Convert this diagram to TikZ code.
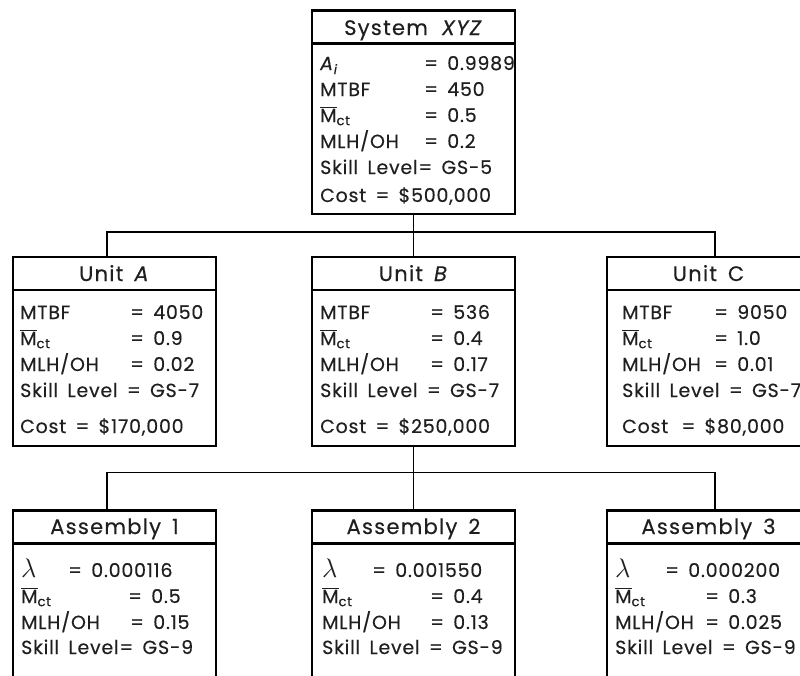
\documentclass[tikz,border=0pt]{standalone}
\usepackage[no-math]{fontspec}
\setmainfont{Poppins}[LetterSpace=4, WordSpace=1.6, Numbers=Monospaced, FakeBold=0.3]
\usetikzlibrary{calc}
\newcommand\Mbar{$\overline{\mbox{M}}$\textsubscript{ct}}
\newcommand\lam{\scalebox{1.55}{$\lambda$}}
\begin{document}
\begin{tikzpicture}[x=1pt,y=-1pt,
  box/.style={draw, line width=2.6pt, minimum width=203pt, inner sep=0pt, outer sep=0pt, fill=white},
  sep/.style={line width=2.6pt},
  conn/.style={line width=1.3pt},
  txt/.style={anchor=base west, inner sep=0pt, text=black!88, font=\fontsize{19}{22}\selectfont},
  hdr/.style={anchor=base, inner sep=0pt, text=black!88, font=\fontsize{21}{24}\selectfont\addfontfeature{LetterSpace=6}}]
\useasboundingbox (0,0) rectangle (800,675);
\clip (0,0) rectangle (800,675);

% boxes
\node[box, minimum height=203.5pt] (sys) at (413.5,112.25) {};
\node[box, minimum height=189pt] (uA) at (114.5,351.5) {};
\node[box, minimum height=189pt] (uB) at (413.5,351.5) {};
\node[box, minimum height=189pt] (uC) at (708.5,351.5) {};
\node[box, minimum height=190pt] (a1) at (114.5,605.7) {};
\node[box, minimum height=190pt] (a2) at (413.5,605.7) {};
\node[box, minimum height=190pt] (a3) at (708.5,605.7) {};

% header separators
\foreach \b in {sys,uA,uB,uC,a1,a2,a3}
  \draw[sep] ([yshift=-33pt]\b.north west) -- ([yshift=-33pt]\b.north east);

% connectors
\draw[conn] (sys.south) -- (uB.north);
\draw[conn] ([xshift=-7.5pt]uA.north) |- ([yshift=25pt]uB.north) -| ([xshift=6.5pt]uC.north);
\draw[conn] (uB.south) -- (a2.north);
\draw[conn] ([xshift=-7.5pt]a1.north) |- ([yshift=38pt]a2.north) -| ([xshift=6.5pt]a3.north);

% System XYZ
\node[hdr] (sysh) at (413.5,35) {System\hspace{3pt} \textit{XYZ}};
\node[txt] (s1l) at (320,70) {\textit{A}\textsubscript{\textit{i}}};
\node[txt] (s1v) at (424,70) {= 0.9989};
\node[txt] (s2l) at (320,96) {MTBF};
\node[txt] (s2v) at (424,96) {= 450};
\node[txt] (s3l) at (320,122) {\Mbar};
\node[txt] (s3v) at (424,122) {= 0.5};
\node[txt] (s4l) at (320,148) {MLH/OH};
\node[txt] (s4v) at (424,148) {= 0.2};
\node[txt] (s5) at (320,174) {Skill Level= GS-5};
\node[txt] (s6) at (320,202) {Cost = \$500,000};

% Unit A
\node[hdr] (uAh) at (114.5,281) {Unit \textit{A}};
\node[txt] (A1l) at (20,319) {MTBF};
\node[txt] (A1v) at (130,319) {= 4050};
\node[txt] (A2l) at (20,345) {\Mbar};
\node[txt] (A2v) at (130,345) {= 0.9};
\node[txt] (A3l) at (20,371) {MLH/OH};
\node[txt] (A3v) at (130,371) {= 0.02};
\node[txt] (A4) at (20,397) {Skill Level = GS-7};
\node[txt] (A5) at (20,433) {Cost = \$170,000};

% Unit B
\node[hdr] (uBh) at (413.5,281) {Unit \textit{B}};
\node[txt] (B1l) at (320,319) {MTBF};
\node[txt] (B1v) at (430,319) {= 536};
\node[txt] (B2l) at (320,345) {\Mbar};
\node[txt] (B2v) at (430,345) {= 0.4};
\node[txt] (B3l) at (320,371) {MLH/OH};
\node[txt] (B3v) at (430,371) {= 0.17};
\node[txt] (B4) at (320,397) {Skill Level = GS-7};
\node[txt] (B5) at (320,433) {Cost = \$250,000};

% Unit C
\node[hdr] (uCh) at (708.5,281) {Unit C};
\node[txt] (C1l) at (622,319) {MTBF};
\node[txt] (C1v) at (714,319) {= 9050};
\node[txt] (C2l) at (622,345) {\Mbar};
\node[txt] (C2v) at (714,345) {= 1.0};
\node[txt] (C3l) at (622,371) {MLH/OH};
\node[txt] (C3v) at (714,371) {= 0.01};
\node[txt] (C4) at (622,397) {Skill Level = GS-7};
\node[txt] (C5) at (622,433) {Cost\hspace{4pt} = \$80,000};

% Assembly 1
\node[hdr] (a1h) at (114.5,534) {Assembly 1};
\node[txt] (P1l) at (21,577) {\lam};
\node[txt] (P1v) at (68,577) {= 0.000116};
\node[txt] (P2l) at (21,603) {\Mbar};
\node[txt] (P2v) at (128,603) {= 0.5};
\node[txt] (P3l) at (21,629) {MLH/OH};
\node[txt] (P3v) at (130,629) {= 0.15};
\node[txt] (P4) at (21,654) {Skill Level= GS-9};

% Assembly 2
\node[hdr] (a2h) at (413.5,534) {Assembly 2};
\node[txt] (Q1l) at (322,577) {\lam};
\node[txt] (Q1v) at (372,577) {= 0.001550};
\node[txt] (Q2l) at (322,603) {\Mbar};
\node[txt] (Q2v) at (430,603) {= 0.4};
\node[txt] (Q3l) at (322,629) {MLH/OH};
\node[txt] (Q3v) at (430,629) {= 0.13};
\node[txt] (Q4) at (322,654) {Skill Level = GS-9};

% Assembly 3
\node[hdr] (a3h) at (708.5,534) {Assembly 3};
\node[txt] (R1l) at (615,577) {\lam};
\node[txt] (R1v) at (665,577) {= 0.000200};
\node[txt] (R2l) at (615,603) {\Mbar};
\node[txt] (R2v) at (705,603) {= 0.3};
\node[txt] (R3l) at (615,629) {MLH/OH};
\node[txt] (R3v) at (705,629) {= 0.025};
\node[txt] (R4) at (615,654) {Skill Level = GS-9};
\end{tikzpicture}
\end{document}
